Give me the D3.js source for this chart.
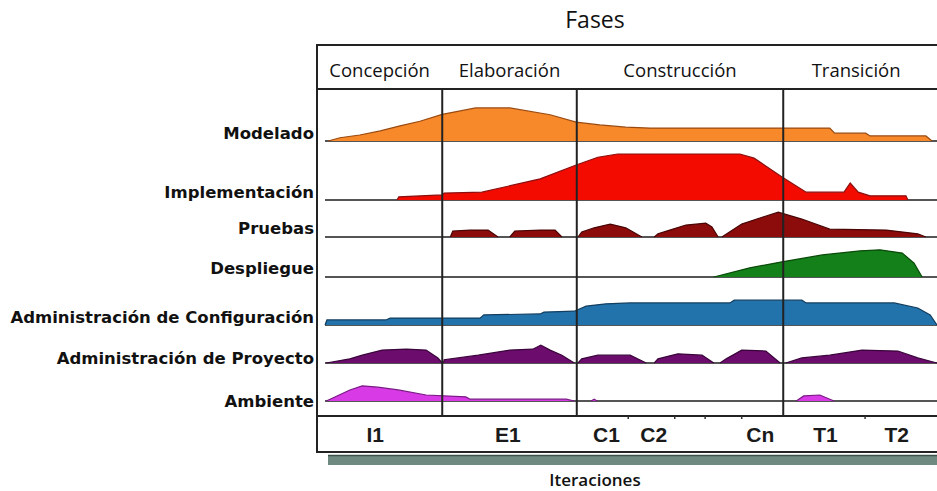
<!DOCTYPE html>
<html>
<head>
<meta charset="utf-8">
<title>Fases e iteraciones</title>
<script src="https://cdn.jsdelivr.net/npm/d3@7"></script>
<style>
  html, body { margin: 0; padding: 0; background: #fff; }
  svg { display: block; }
</style>
</head>
<body>
<div id="chart"></div>
<script>
// ---- data ----
// time axis: 0..100 = whole project, effort: 0..100 = peak effort
var phases = ["Concepción", "Elaboración", "Construcción", "Transición"];
var phaseEnds = [0, 20.2, 41.9, 75.2, 100];

var iterations = ["I1", "E1", "C1", "C2", "Cn", "T1", "T2"];
var iterationAt = [9.4, 30.8, 46.7, 54.3, 71.5, 82.0, 93.5];
var iterationTicks = [50.2, 57.7, 62.6, 68.5, 88.4];

var workflows = ["Modelado", "Implementación", "Pruebas", "Despliegue",
  "Administración de Configuración", "Administración de Proyecto", "Ambiente"];

var modelado = [[1.8,0],[3.7,7],[6.9,13],[10.2,22],[13.4,33],[16.6,43],[20.2,58],[25.6,72],[31.1,72],
  [37.6,57],[41.8,41],[45.6,35],[49.8,30],[53.7,28],[82.7,28],[83.5,17],[88.5,17],[89.2,11],[98.2,11],[99.2,0]];

var implementacion = [[12.9,0],[13.2,7],[20.2,11],[20.5,15],[26.6,17],[36.0,46],[41.8,76],[45.3,93],[48.5,100],
  [68.2,100],[70.5,91],[75.0,50],[78.9,17],[85.0,17],[86.0,37],[87.3,17],[89.2,9],[95.0,9],[95.3,0]];

var pruebas = [
  [[21.5,0],[21.9,13],[24.7,15],[27.6,15],[29.2,0]],
  [[31.1,0],[31.9,13],[36.0,15],[38.4,15],[39.5,0]],
  [[42.1,0],[42.7,11],[44.7,20],[47.3,28],[49.8,20],[52.4,0]],
  [[54.4,0],[55.0,7],[56.9,15],[59.5,26],[62.7,30],[63.7,22],[64.7,0]],
  [[65.3,0],[68.5,28],[71.8,43],[74.4,54],[78.2,39],[82.7,17],[91.8,15],[96.9,7],[98.2,0]]
];

var despliegue = [[64.0,0],[69.8,20],[75.0,33],[81.5,48],[87.6,57],[90.8,59],[94.4,52],[96.3,30],[97.6,0]];

var configuracion = [[1.3,0],[1.6,11],[11.1,11],[11.8,15],[26.3,15],[26.9,22],[36.0,24],[36.6,28],[41.5,30],
  [43.4,41],[46.6,46],[50.5,48],[66.6,48],[67.3,54],[78.2,54],[78.9,48],[93.1,48],[96.9,37],[98.9,22],[100,0]];

var proyecto = [
  [[1.5,0],[5.3,9],[7.3,17],[10.5,28],[14.4,30],[17.6,28],[19.5,11],[20.2,0]],
  [[20.4,0],[20.5,7],[26.0,17],[31.1,28],[34.8,30],[36.1,39],[37.6,28],[39.5,17],[41.5,0]],
  [[42.1,0],[42.7,9],[45.3,17],[50.5,17],[53.1,0]],
  [[54.4,0],[55.0,9],[58.2,20],[62.1,17],[64.0,0]],
  [[65.0,0],[66.0,9],[68.5,28],[72.4,26],[74.7,0]],
  [[75.6,0],[78.2,11],[82.7,17],[87.9,28],[93.7,26],[96.9,11],[100,0]]
];

var ambiente = [
  [[1.5,0],[5.3,24],[7.3,33],[9.8,30],[13.1,24],[17.6,13],[24.0,9],[24.7,4],[40.2,4],[41.5,0]],
  [[44.2,0],[44.7,4],[45.2,0]],
  [[77.3,0],[78.5,11],[81.1,13],[83.4,0]]
];

var seriesData = [[modelado], [implementacion], pruebas, [despliegue], [configuracion], proyecto, ambiente];
var colors = ["#f7892b", "#f40b00", "#8c0c0c", "#14801a", "#2272ab", "#6c0d6e", "#d83be6"];
var strokes = ["#9a4a10", "#8a1010", "#4a0505", "#0a4a0a", "#123e60", "#3a053b", "#7a1a85"];

// ---- layout ----
var W = 937, H = 491;
var frame = { left: 317, right: 940, top: 45, head: 89, bottom: 416, foot: 452 };
var rowBase = [141, 200, 237, 277, 325, 363, 401];
var labelY = [139, 198, 234, 274, 323, 364, 407];

var svg = d3.select("#chart").append("svg")
  .attr("width", W).attr("height", H)
  .attr("viewBox", [0, 0, W, H]);

var x = d3.scaleLinear().domain([0, 100]).range([frame.left, 937]);
var h = d3.scaleLinear().domain([0, 100]).range([0, 46]);

// shadow under the frame
svg.append("rect")
  .attr("x", 328).attr("y", 455)
  .attr("width", W - 328).attr("height", 10)
  .attr("fill", "#6f8b81");
svg.append("line")
  .attr("x1", 328).attr("x2", W).attr("y1", 455.5).attr("y2", 455.5)
  .attr("stroke", "#3e5149").attr("stroke-width", 1.5);

// frame
svg.append("rect")
  .attr("x", frame.left).attr("y", frame.top)
  .attr("width", frame.right - frame.left).attr("height", frame.foot - frame.top)
  .attr("fill", "#fff").attr("stroke", "#222").attr("stroke-width", 2);

// rows
workflows.forEach(function(name, i) {
  var base = rowBase[i];
  var area = d3.area()
    .x(d => x(d[0]))
    .y0(base)
    .y1(d => base - h(d[1]))
    .curve(d3.curveLinear);
  var line = d3.line()
    .x(d => x(d[0]))
    .y(d => base - h(d[1]));

  svg.append("line")
    .attr("x1", x(0) + 8).attr("x2", W)
    .attr("y1", base).attr("y2", base)
    .attr("stroke", "#555").attr("stroke-width", 2);

  var g = svg.append("g");
  g.selectAll("path.fill")
    .data(seriesData[i])
    .join("path")
      .attr("class", "fill")
      .attr("d", area)
      .attr("fill", colors[i]);
  g.selectAll("path.edge")
    .data(seriesData[i])
    .join("path")
      .attr("class", "edge")
      .attr("d", line)
      .attr("fill", "none")
      .attr("stroke", strokes[i])
      .attr("stroke-width", 1.2);

  svg.append("text")
    .attr("x", frame.left - 3)
    .attr("y", labelY[i])
    .attr("text-anchor", "end")
    .style("font", "bold 16.5px 'DejaVu Sans'")
    .attr("fill", "#111")
    .text(name);
});

// phase dividers
svg.selectAll("line.phase")
  .data(phaseEnds.slice(1, -1))
  .join("line")
    .attr("class", "phase")
    .attr("x1", d => x(d)).attr("x2", d => x(d))
    .attr("y1", frame.head).attr("y2", frame.bottom)
    .attr("stroke", "#222").attr("stroke-width", 2);

// horizontal rules
[frame.head, frame.bottom].forEach(function(yy) {
  svg.append("line")
    .attr("x1", frame.left).attr("x2", W)
    .attr("y1", yy).attr("y2", yy)
    .attr("stroke", "#222").attr("stroke-width", 2);
});

// small iteration ticks under the plot
svg.selectAll("line.tick")
  .data(iterationTicks)
  .join("line")
    .attr("class", "tick")
    .attr("x1", d => x(d)).attr("x2", d => x(d))
    .attr("y1", frame.bottom).attr("y2", frame.bottom + 3)
    .attr("stroke", "#333").attr("stroke-width", 1.5);

// phase names
svg.selectAll("text.phase")
  .data(phases)
  .join("text")
    .attr("class", "phase")
    .attr("x", (d, i) => x((phaseEnds[i] + phaseEnds[i + 1]) / 2) - (i === 3 ? 4 : 0))
    .attr("y", 77)
    .attr("text-anchor", "middle")
    .style("font", "18.5px 'Open Sans'")
    .attr("fill", "#111")
    .text(d => d);

// iteration labels
svg.selectAll("text.iter")
  .data(iterations)
  .join("text")
    .attr("class", "iter")
    .attr("x", (d, i) => x(iterationAt[i]))
    .attr("y", 442)
    .attr("text-anchor", "middle")
    .style("font", "bold 21px 'Liberation Sans'")
    .attr("fill", "#1a1a1a")
    .text(d => d);

// titles
svg.append("text")
  .attr("x", 595).attr("y", 28)
  .attr("text-anchor", "middle")
  .style("font", "23px 'Open Sans'")
  .attr("fill", "#111")
  .text("Fases");

svg.append("text")
  .attr("x", 595).attr("y", 486)
  .attr("text-anchor", "middle")
  .style("font", "600 17px 'Open Sans'")
  .attr("fill", "#111")
  .text("Iteraciones");
</script>
</body>
</html>
